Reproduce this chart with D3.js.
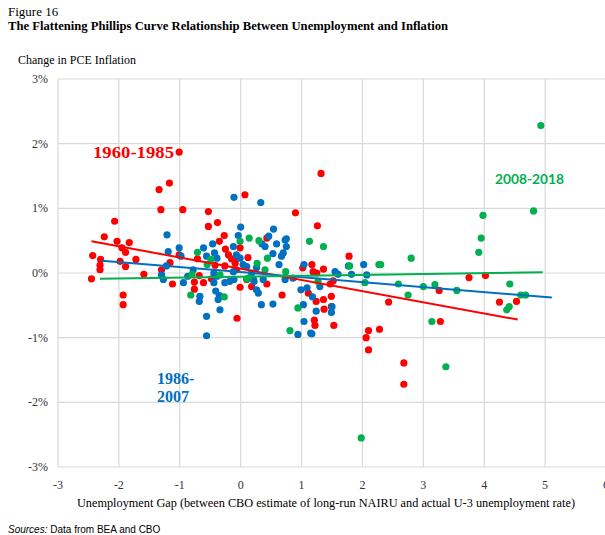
<!DOCTYPE html>
<html lang="en">
<head>
    <meta charset="UTF-8">
    <title>The Flattening Phillips Curve</title>
    <style>
        body { margin: 0; background: #fff; }
        svg { display: block; }
        .serif { font-family: "Liberation Serif", "DejaVu Serif", serif; }
        .sans { font-family: "Liberation Sans", Arial, sans-serif; }
    </style>
</head>
<body>
    <svg id="chart" width="605" height="535"></svg>

    <script src="https://cdn.jsdelivr.net/npm/d3@7"></script>
    <script>
        // [unemployment gap, change in PCE inflation %]
        const red6085 = [
            [-1.01, 1.87], [-1.17, 1.39], [-1.34, 1.29], [-1.31, 0.98], [-0.95, 0.98], [-0.53, 0.95],
            [-0.38, 0.78], [-0.53, 0.72], [-0.27, 0.58], [0.07, 1.21], [1.32, 1.54], [0.90, 0.93],
            [1.26, 0.73], [0.43, 0.54], [-2.07, 0.80], [-2.24, 0.56], [-2.03, 0.49], [-1.83, 0.47],
            [-1.95, 0.39], [-1.89, 0.32], [-2.43, 0.27], [-2.30, 0.21], [-1.98, 0.18], [-1.72, 0.21],
            [-2.31, 0.12], [-1.89, 0.10], [-2.31, 0.05], [-2.45, -0.09], [-1.59, -0.02], [-1.93, -0.34],
            [-1.93, -0.49], [-1.30, 0.05], [-1.12, -0.17], [-1.16, 0.16], [-1.01, 0.28], [-0.71, 0.22],
            [-0.76, -0.14], [-0.61, -0.15], [-0.76, -0.25], [-0.68, -0.04], [-0.48, -0.09], [-0.35, 0.49],
            [-0.25, 0.37], [-0.20, 0.28], [-0.42, 0.12], [-0.26, 0.11], [-0.11, 0.21], [-0.01, 0.39],
            [0.12, 0.24], [-0.15, 0.22], [-0.09, 0.15], [-0.07, 0.05], [0.10, -0.10], [-0.01, -0.22],
            [0.18, -0.21], [0.43, -0.17], [0.68, -0.34], [-0.06, -0.70], [1.02, 0.08], [1.17, 0.13],
            [1.19, 0.02], [1.25, 0.00], [1.36, 0.06], [1.11, -0.31], [1.24, -0.44], [1.36, -0.41],
            [1.49, -0.36], [1.37, -0.56], [1.21, -0.73], [1.22, -0.81], [1.53, -0.81], [1.78, 0.26],
            [1.47, -0.17], [1.52, -0.12], [1.49, -0.52], [2.10, -0.89], [2.06, -1.00], [2.10, -1.19],
            [2.28, -0.87], [2.43, -0.45], [2.68, -1.39], [2.68, -1.72], [3.26, -0.27], [3.28, -0.75],
            [3.75, -0.07], [4.02, -0.04], [4.25, -0.45], [4.53, -0.44]
        ];
        const blue8607 = [
            [-1.21, 0.59], [-1.19, 0.33], [-1.01, 0.39], [-0.98, 0.26], [-1.22, 0.11], [-1.30, -0.03],
            [-1.27, -0.10], [-0.94, -0.15], [-0.87, -0.05], [-0.78, 0.05], [-0.61, 0.39], [-0.46, 0.45],
            [-0.56, 0.26], [-0.43, 0.31], [-0.39, 0.23], [-0.44, 0.00], [-0.39, -0.05], [-0.44, -0.15],
            [-0.41, -0.28], [-0.67, -0.36], [-0.68, -0.44], [-0.35, -0.35], [-0.37, -0.41], [-0.34, -0.57],
            [-0.56, -0.67], [-0.56, -0.97], [-0.26, -0.15], [-0.18, -0.13], [-0.11, -0.10], [-0.11, 1.17],
            [0.33, 1.09], [0.00, 0.71], [-0.04, 0.58], [0.46, 0.57], [0.54, 0.68], [0.75, 0.53],
            [0.35, 0.45], [0.40, 0.41], [0.59, 0.45], [0.75, 0.41], [0.73, 0.51], [0.53, 0.30],
            [0.67, 0.26], [0.70, 0.31], [0.63, 0.13], [-0.12, 0.41], [-0.07, 0.28], [-0.01, 0.23],
            [-0.12, 0.02], [0.04, 0.13], [0.10, 0.10], [0.18, 0.00], [0.26, 0.08], [0.22, -0.13],
            [0.21, -0.10], [0.26, -0.26], [0.29, -0.31], [0.34, -0.49], [0.53, -0.48], [0.37, -0.10],
            [0.73, -0.10], [0.86, -0.08], [1.04, 0.13], [0.99, -0.26], [1.09, -0.23], [1.03, -0.49],
            [1.18, -0.37], [1.24, -0.59], [1.04, -0.75], [1.15, -0.93], [0.94, -0.95], [1.17, -0.94],
            [1.30, -0.21], [1.55, 0.02], [1.60, -0.02], [1.49, -0.61], [1.50, -0.52], [1.77, 0.11],
            [1.82, -0.02], [2.02, 0.13], [2.07, -0.03]
        ];
        const green0818 = [
            [-0.71, 0.32], [-0.49, 0.21], [-0.55, 0.13], [-0.80, -0.02], [-0.34, -0.03], [-0.82, -0.34],
            [-0.27, -0.37], [-0.01, 0.49], [0.14, 0.54], [0.30, 0.50], [0.27, 0.15], [0.44, 0.23],
            [0.40, 0.05], [0.10, -0.09], [0.13, -0.08], [0.74, 0.02], [1.13, 0.49], [1.36, 0.41],
            [0.94, -0.54], [0.81, -0.89], [1.27, -0.13], [1.79, 0.11], [2.04, -0.15], [2.27, 0.13],
            [4.93, 2.28], [4.81, 0.96], [3.98, 0.89], [3.95, 0.54], [3.91, 0.32], [2.80, 0.23],
            [2.30, 0.13], [2.59, -0.17], [2.75, -0.34], [3.00, -0.21], [3.19, -0.18], [3.55, -0.27],
            [3.14, -0.75], [3.37, -1.45], [1.98, -2.55], [4.42, -0.17], [4.37, -0.57], [4.41, -0.52],
            [4.60, -0.34], [4.68, -0.34]
        ];

        // linear trend endpoints as drawn in the source
        const redTrend = [[-2.45, 0.49], [4.55, -0.72]];
        const blueTrend = [[-2.28, 0.19], [5.11, -0.38]];
        const greenTrend = [[-2.31, -0.09], [4.96, 0.01]];

        const xTicks = [-3, -2, -1, 0, 1, 2, 3, 4, 5, 6];
        const yTicks = [-3, -2, -1, 0, 1, 2, 3];

        const svg = d3.select("#chart");

        const x = d3.scaleLinear().domain([-3, 6]).range([58, 606]);
        const y = d3.scaleLinear().domain([-3, 3]).range([467, 79]);

        // grid
        svg.append("g").selectAll("line").data(xTicks).join("line")
            .attr("x1", d => x(d)).attr("x2", d => x(d))
            .attr("y1", y(3)).attr("y2", y(-3))
            .attr("stroke", "#d9d9d9").attr("stroke-width", 1.2);
        svg.append("g").selectAll("line").data(yTicks).join("line")
            .attr("x1", x(-3)).attr("x2", x(6))
            .attr("y1", d => y(d)).attr("y2", d => y(d))
            .attr("stroke", "#d9d9d9").attr("stroke-width", 1.2);

        // tick labels
        svg.append("g").selectAll("text").data(yTicks).join("text")
            .attr("class", "serif")
            .attr("x", 48).attr("y", d => y(d) + 4)
            .attr("text-anchor", "end")
            .attr("font-size", 12).attr("fill", "#333")
            .text(d => d + "%");
        svg.append("g").selectAll("text").data(xTicks).join("text")
            .attr("class", "serif")
            .attr("x", d => x(d)).attr("y", 489)
            .attr("text-anchor", "middle")
            .attr("font-size", 12).attr("fill", "#333")
            .text(d => d);

        // points
        const series = [
            { data: red6085, color: "#ff0000" },
            { data: blue8607, color: "#0070c0" },
            { data: green0818, color: "#00b050" }
        ];
        series.forEach(s => {
            svg.append("g").selectAll("circle").data(s.data).join("circle")
                .attr("cx", d => x(d[0]))
                .attr("cy", d => y(d[1]))
                .attr("r", 3.6)
                .attr("fill", s.color);
        });

        // trend lines
        const line = d3.line().x(d => x(d[0])).y(d => y(d[1]));
        [[redTrend, "#ff0000"], [blueTrend, "#0070c0"], [greenTrend, "#00b050"]].forEach(([t, c]) => {
            svg.append("path")
                .attr("d", line(t))
                .attr("fill", "none")
                .attr("stroke", c)
                .attr("stroke-width", 2);
        });

        // period labels
        svg.append("text").attr("class", "serif")
            .attr("x", 93).attr("y", 158)
            .attr("font-size", 16).attr("font-weight", "bold").attr("fill", "#ff0000")
            .attr("textLength", 81).attr("lengthAdjust", "spacingAndGlyphs")
            .text("1960-1985");
        svg.append("text").attr("class", "serif")
            .attr("x", 157).attr("y", 384)
            .attr("font-size", 16).attr("font-weight", "bold").attr("fill", "#0070c0")
            .text("1986-");
        svg.append("text").attr("class", "serif")
            .attr("x", 157).attr("y", 402)
            .attr("font-size", 16).attr("font-weight", "bold").attr("fill", "#0070c0")
            .text("2007");
        svg.append("text")
            .attr("x", 495).attr("y", 184)
            .attr("font-family", "Lato, 'Open Sans', sans-serif")
            .attr("font-size", 14).attr("font-weight", "bold").attr("fill", "#00b050")
            .attr("textLength", 69).attr("lengthAdjust", "spacingAndGlyphs")
            .text("2008-2018");

        // titles
        svg.append("text").attr("class", "serif")
            .attr("x", 8).attr("y", 16)
            .attr("font-size", 13).attr("fill", "#000")
            .text("Figure 16");
        svg.append("text").attr("class", "serif")
            .attr("x", 8).attr("y", 30)
            .attr("font-size", 13).attr("font-weight", "bold").attr("fill", "#000")
            .attr("textLength", 440).attr("lengthAdjust", "spacingAndGlyphs")
            .text("The Flattening Phillips Curve Relationship Between Unemployment and Inflation");
        svg.append("text").attr("class", "serif")
            .attr("x", 18).attr("y", 64)
            .attr("font-size", 12).attr("fill", "#000")
            .attr("textLength", 118).attr("lengthAdjust", "spacingAndGlyphs")
            .text("Change in PCE Inflation");
        svg.append("text").attr("class", "serif")
            .attr("x", 77).attr("y", 507)
            .attr("font-size", 12).attr("fill", "#000")
            .attr("textLength", 498).attr("lengthAdjust", "spacingAndGlyphs")
            .text("Unemployment Gap (between CBO estimate of long-run NAIRU and actual U-3 unemployment rate)");

        const src = svg.append("text").attr("class", "sans")
            .attr("x", 8).attr("y", 533)
            .attr("font-size", 10).attr("fill", "#000");
        src.append("tspan").attr("font-style", "italic").text("Sources:");
        src.append("tspan").text(" Data from BEA and CBO");
    </script>
</body>
</html>
